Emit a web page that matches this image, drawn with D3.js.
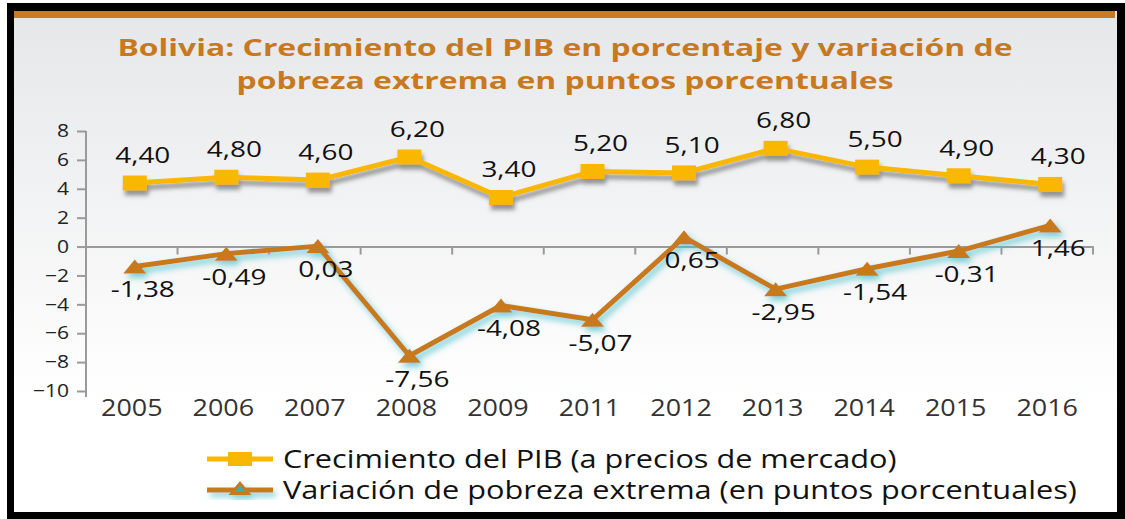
<!DOCTYPE html>
<html>
<head>
<meta charset="utf-8">
<script src="https://cdn.jsdelivr.net/npm/d3@7"></script>
<style>
  body { margin: 0; background: #fff; }
  text { font-family: "Open Sans", sans-serif; }
</style>
</head>
<body>
<div class="chart"></div>
<script>
var years = ["2005", "2006", "2007", "2008", "2009", "2011", "2012", "2013", "2014", "2015", "2016"];
var pib = [4.40, 4.80, 4.60, 6.20, 3.40, 5.20, 5.10, 6.80, 5.50, 4.90, 4.30];
var pobreza = [-1.38, -0.49, 0.03, -7.56, -4.08, -5.07, 0.65, -2.95, -1.54, -0.31, 1.46];
var yTicks = [-10, -8, -6, -4, -2, 0, 2, 4, 6, 8];
var titleLines = ["Bolivia: Crecimiento del PIB en porcentaje y variación de",
                  "pobreza extrema en puntos porcentuales"];
var legendLabels = ["Crecimiento del PIB (a precios de mercado)",
                    "Variación de pobreza extrema (en puntos porcentuales)"];

var svgWidth = 1125;
var svgHeight = 519;
var sx = 1.17; // the picture is a bit stretched sideways

var svg = d3.select(".chart")
  .append("svg")
  .attr("width", svgWidth)
  .attr("height", svgHeight);

var defs = svg.append("defs");

var grad = defs.append("linearGradient")
  .attr("id", "bg")
  .attr("x1", 0).attr("y1", 0).attr("x2", 0).attr("y2", 1);
grad.append("stop").attr("offset", "0%").attr("stop-color", "#e6e7e9");
grad.append("stop").attr("offset", "78%").attr("stop-color", "#ffffff");
grad.append("stop").attr("offset", "100%").attr("stop-color", "#ffffff");

defs.append("filter").attr("id", "shadowGray")
  .attr("x", "-10%").attr("y", "-30%").attr("width", "120%").attr("height", "160%")
  .append("feDropShadow")
  .attr("dx", 2).attr("dy", 5).attr("stdDeviation", 2)
  .attr("flood-color", "#555").attr("flood-opacity", 0.6);

defs.append("filter").attr("id", "glowTeal")
  .attr("x", "-10%").attr("y", "-30%").attr("width", "120%").attr("height", "160%")
  .append("feDropShadow")
  .attr("dx", 3).attr("dy", 4).attr("stdDeviation", 3)
  .attr("flood-color", "#4fc3cc").attr("flood-opacity", 0.8);

// frame
svg.append("rect")
  .attr("x", 7).attr("y", 3)
  .attr("width", svgWidth - 7).attr("height", svgHeight - 3)
  .attr("fill", "#000");

svg.append("rect")
  .attr("x", 14).attr("y", 11)
  .attr("width", 1103).attr("height", 501)
  .attr("fill", "url(#bg)");

svg.append("rect")
  .attr("x", 14).attr("y", 11)
  .attr("width", 1101).attr("height", 7)
  .attr("fill", "#c97a22");

// stretched text helper
function addText(g, x, y, str, size, stretch, anchor) {
  return g.append("text")
    .attr("transform", `translate(${x}, ${y}) scale(${stretch}, 1)`)
    .attr("text-anchor", anchor || "middle")
    .style("font-size", size + "px")
    .text(str);
}

// title
titleLines.forEach(function (t, i) {
  addText(svg, 565, 55.5 + i * 33, t, 24, 1.33)
    .attr("fill", "#c8791f")
    .style("font-weight", "bold");
});

// scales
var x = d3.scaleBand()
  .domain(years)
  .range([86, 1093]);

var y = d3.scaleLinear()
  .domain([-10, 8])
  .range([391, 131]);

var px = d => x(d) + x.bandwidth() / 2 + 3;

// y axis
var leftAxis = d3.axisLeft(y)
  .tickValues(yTicks)
  .tickSize(9)
  .tickPadding(8);

var yAxis = svg.append("g")
  .attr("transform", "translate(86, 0)")
  .call(leftAxis);

yAxis.select(".domain")
  .attr("d", `M0,${y(8)}V${y(-10) + 6}`)
  .attr("stroke", "#9a9a9a")
  .attr("stroke-width", 2);
yAxis.selectAll(".tick line")
  .attr("stroke", "#9a9a9a")
  .attr("stroke-width", 2);
yAxis.selectAll(".tick text")
  .attr("fill", "#222")
  .attr("transform", `scale(${sx}, 1)`)
  .attr("x", -17 / sx)
  .style("font-size", "18px")
  .style("font-family", "'Open Sans', sans-serif");

// zero line with category ticks
var bottomAxis = d3.axisBottom(x)
  .tickSize(0)
  .tickFormat("");

var zeroAxis = svg.append("g")
  .attr("transform", `translate(0, ${y(0)})`)
  .call(bottomAxis);

zeroAxis.select(".domain")
  .attr("stroke", "#9a9a9a")
  .attr("stroke-width", 2);

var bounds = years.map(d => x(d)).concat([x.range()[1]]);
zeroAxis.selectAll(".bound")
  .data(bounds)
  .enter()
  .append("line")
  .attr("class", "bound")
  .attr("x1", d => d)
  .attr("x2", d => d)
  .attr("y1", 0)
  .attr("y2", 8)
  .attr("stroke", "#9a9a9a")
  .attr("stroke-width", 2);

// x labels
var xLab = svg.append("g").attr("fill", "#333");
years.forEach(function (yr) {
  addText(xLab, x(yr) + x.bandwidth() / 2, 416, yr, 23, sx);
});

// lines
var line = d3.line()
  .x(d => px(d.year))
  .y(d => y(d.value));

var pibData = years.map((yr, i) => ({ year: yr, value: pib[i] }));
var pobData = years.map((yr, i) => ({ year: yr, value: pobreza[i] }));

var yellow = "#f9b700";
var brown = "#c7791f";

var pibG = svg.append("g").attr("filter", "url(#shadowGray)");
pibG.append("path")
  .datum(pibData)
  .attr("d", line)
  .attr("fill", "none")
  .attr("stroke", yellow)
  .attr("stroke-width", 5)
  .attr("stroke-linejoin", "round");
pibG.selectAll("rect")
  .data(pibData)
  .enter()
  .append("rect")
  .attr("x", d => px(d.year) - 12)
  .attr("y", d => y(d.value) - 7.5)
  .attr("width", 24)
  .attr("height", 15)
  .attr("fill", yellow);

var tri = "M-11.5,7L0,-7L11.5,7Z";

var pobG = svg.append("g").attr("filter", "url(#glowTeal)");
pobG.append("path")
  .datum(pobData)
  .attr("d", line)
  .attr("fill", "none")
  .attr("stroke", brown)
  .attr("stroke-width", 5)
  .attr("stroke-linejoin", "round");
pobG.selectAll(".tri")
  .data(pobData)
  .enter()
  .append("path")
  .attr("class", "tri")
  .attr("d", tri)
  .attr("transform", d => `translate(${px(d.year)}, ${y(d.value)})`)
  .attr("fill", brown);

// data labels (comma decimals)
var fmt = v => v.toFixed(2).replace(".", ",");

var labG = svg.append("g").attr("fill", "#111");
pibData.forEach(function (d) {
  addText(labG, px(d.year) + 8, y(d.value) - 20, fmt(d.value), 22, 1.27);
});
pobData.forEach(function (d) {
  addText(labG, px(d.year) + 8, y(d.value) + 31, fmt(d.value), 22, 1.27);
});

// legend
var leg = svg.append("g");

leg.append("line")
  .attr("x1", 207).attr("x2", 273)
  .attr("y1", 459).attr("y2", 459)
  .attr("stroke", yellow).attr("stroke-width", 5);
leg.append("rect")
  .attr("x", 228).attr("y", 452)
  .attr("width", 24).attr("height", 14)
  .attr("fill", yellow);

var leg2 = leg.append("g").attr("filter", "url(#glowTeal)");
leg2.append("line")
  .attr("x1", 207).attr("x2", 273)
  .attr("y1", 490).attr("y2", 490)
  .attr("stroke", brown).attr("stroke-width", 5);
leg2.append("path")
  .attr("d", tri)
  .attr("transform", "translate(240, 488)")
  .attr("fill", brown);
leg.append("path")
  .attr("d", "M-5,4L0,-3L5,4Z")
  .attr("transform", "translate(240, 488)")
  .attr("fill", "#2fb2b8");

legendLabels.forEach(function (t, i) {
  addText(leg, 283, 468 + i * 31, t, 25, 1.227, "start").attr("fill", "#111");
});
</script>
</body>
</html>
